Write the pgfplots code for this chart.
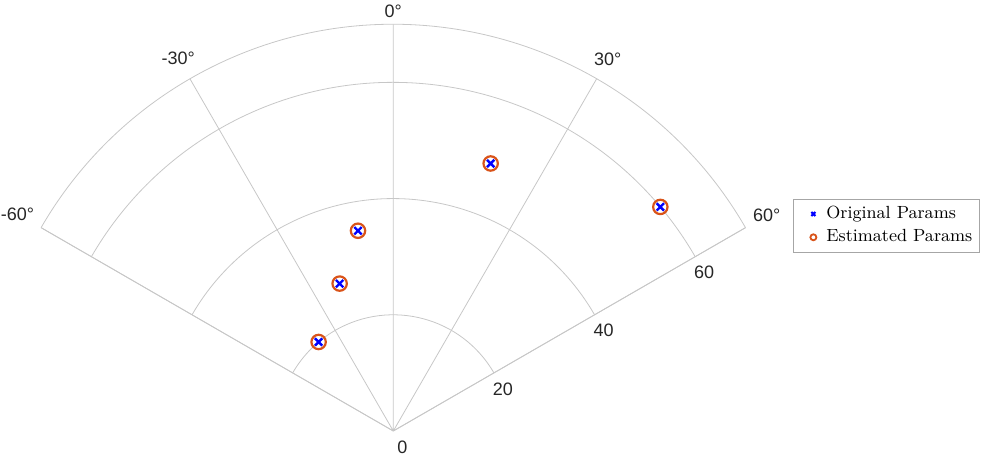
\documentclass[border=0pt]{standalone}
\usepackage{pgfplots}
\usepgfplotslibrary{polar}
\pgfplotsset{compat=1.18}
\usepackage{fontspec}
\newfontfamily\hv{Liberation Sans}

\definecolor{mlblue}{rgb}{0,0,1}
\definecolor{mlorange}{rgb}{0.85,0.325,0.098}
\definecolor{gridgray}{rgb}{0.78,0.78,0.78}
\definecolor{labgray}{rgb}{0.15,0.15,0.15}

% angles are stored as 90 - theta (theta zero at top, clockwise)
\pgfplotstableread{
ang r
70  49
40  60
100 35
110 27
130 20
}\params

\begin{document}
\begin{tikzpicture}
\begin{polaraxis}[
    scale only axis,
    width=406.7pt,
    xmin=30, xmax=150,
    ymin=0, ymax=70,
    xtick={30,60,90,120,150},
    xticklabels={60°,30°,0°,-30°,-60°},
    ytick={0,20,40,60},
    grid=major,
    major grid style={gridgray, line width=0.4pt},
    axis line style={gridgray, line width=0.4pt},
    tick style={draw=none},
    ticklabel style={font=\hv\fontsize{9}{10}\selectfont, text=labgray},
    yticklabel style={anchor=center, xshift=4.5pt, yshift=-8pt},
    /pgf/number format/assume math mode=true,
    legend style={at={(axis cs:27.2,77.35)}, anchor=west, draw=gray!70,
        font=\fontsize{8.8}{10}\selectfont, row sep=0pt,
        inner xsep=1.5pt, inner ysep=1.5pt},
    legend cell align=left,
    legend image code/.code={
        \path[draw=none, fill=none] (0pt,0pt) -- (13pt,0pt);
        \draw[#1] plot[only marks] coordinates {(8.5pt,0pt)};},
]
\addplot[only marks, mark=x, mark size=2.6pt, line width=1.2pt, mlblue,
    legend image post style={mark size=1.4pt, line width=1pt}]
    table[x=ang, y=r] {\params};
\addlegendentry{Original Params}
\addplot[only marks, mark=o, mark size=3.6pt, line width=1.1pt, mlorange,
    legend image post style={mark size=1.5pt, line width=0.9pt}]
    table[x=ang, y=r] {\params};
\addlegendentry{Estimated Params}
\coordinate (O) at (axis cs:0,0);
\end{polaraxis}
\pgfresetboundingbox
\path ([shift={(-196.65pt,-12.5pt)}]O) rectangle ([shift={(293.85pt,215.5pt)}]O);
\end{tikzpicture}
\end{document}
